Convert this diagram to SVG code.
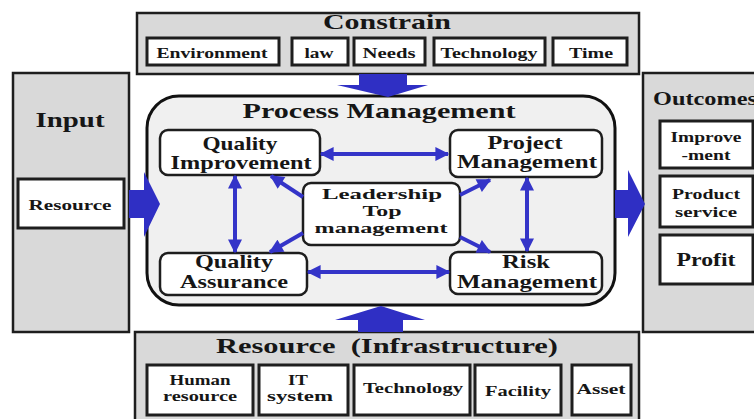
<svg xmlns="http://www.w3.org/2000/svg" width="754" height="419" viewBox="0 0 754 419">
<style>
.panel{fill:#d9d9d9;stroke:#1e1e1e;stroke-width:2.5}
.item{fill:#fff;stroke:#1e1e1e;stroke-width:3}
.node{fill:#fff;stroke:#1e1e1e;stroke-width:2.5}
.proc{fill:#f0f0f0;stroke:#111;stroke-width:3}
text{font-family:"Liberation Serif","Times New Roman",serif;font-weight:bold;fill:#161616;text-anchor:middle}
.t1{font-size:22px}
.t2{font-size:15px}
.t4{font-size:14px}
.t3{font-size:19px}
.t5{font-size:15.5px}
.link{stroke:#3434c8;stroke-width:4;fill:none;marker-end:url(#ah)}
.dbl{marker-start:url(#ah)}
.blk{fill:#2f2fc4}
</style>
<defs>
<marker id="ah" viewBox="0 0 10 10" refX="9" refY="5" markerWidth="15" markerHeight="14" markerUnits="userSpaceOnUse" orient="auto-start-reverse">
<path d="M0,0 L10,5 L0,10 z" fill="#3434c8"/>
</marker>
</defs>

<g id="constrain">
<rect class="panel" x="137" y="13" width="502" height="61"/>
<text class="t1" x="387" y="29" textLength="128" lengthAdjust="spacingAndGlyphs">Constrain</text>
<rect class="item" x="147" y="38" width="132" height="27"/>
<text class="t2" x="212" y="58" textLength="111" lengthAdjust="spacingAndGlyphs">Environment</text>
<rect class="item" x="292" y="38" width="56" height="27"/>
<text class="t2" x="319" y="58" textLength="29" lengthAdjust="spacingAndGlyphs">law</text>
<rect class="item" x="354" y="38" width="71" height="27"/>
<text class="t2" x="389" y="58" textLength="53" lengthAdjust="spacingAndGlyphs">Needs</text>
<rect class="item" x="434" y="38" width="111" height="27"/>
<text class="t2" x="489" y="58" textLength="97" lengthAdjust="spacingAndGlyphs">Technology</text>
<rect class="item" x="553" y="38" width="74" height="27"/>
<text class="t2" x="591" y="58" textLength="44" lengthAdjust="spacingAndGlyphs">Time</text>
</g>

<g id="input">
<rect class="panel" x="13" y="73" width="116" height="259"/>
<text class="t1" x="70" y="127" textLength="69" lengthAdjust="spacingAndGlyphs">Input</text>
<rect class="item" x="18" y="179" width="106" height="49"/>
<text class="t2" x="70" y="210" textLength="83" lengthAdjust="spacingAndGlyphs">Resource</text>
</g>

<g id="outcomes">
<rect class="panel" x="643" y="73" width="120" height="259"/>
<text class="t3" x="705" y="105" textLength="104" lengthAdjust="spacingAndGlyphs">Outcomes</text>
<rect class="item" x="660" y="121" width="93" height="47"/>
<text class="t2" x="706" y="142" textLength="71" lengthAdjust="spacingAndGlyphs">Improve</text>
<text class="t2" x="706" y="160" textLength="49" lengthAdjust="spacingAndGlyphs">-ment</text>
<rect class="item" x="660" y="176" width="93" height="51"/>
<text class="t2" x="706" y="199" textLength="68" lengthAdjust="spacingAndGlyphs">Product</text>
<text class="t2" x="706" y="217" textLength="62" lengthAdjust="spacingAndGlyphs">service</text>
<rect class="item" x="660" y="235" width="93" height="49"/>
<text class="t3" x="706" y="266" textLength="59" lengthAdjust="spacingAndGlyphs">Profit</text>
</g>

<g id="resource">
<rect class="panel" x="135" y="332" width="504" height="95"/>
<text class="t1" x="387" y="353" textLength="342" lengthAdjust="spacingAndGlyphs" style="white-space:pre">Resource  (Infrastructure)</text>
<rect class="item" x="147" y="365" width="106" height="50"/>
<text class="t4" x="200" y="385" textLength="61" lengthAdjust="spacingAndGlyphs">Human</text>
<text class="t4" x="200" y="401" textLength="74" lengthAdjust="spacingAndGlyphs">resource</text>
<rect class="item" x="259" y="365" width="89" height="50"/>
<text class="t4" x="298" y="385" textLength="20" lengthAdjust="spacingAndGlyphs">IT</text>
<text class="t4" x="300" y="401" textLength="66" lengthAdjust="spacingAndGlyphs">system</text>
<rect class="item" x="354" y="365" width="116" height="50"/>
<text class="t2" x="413" y="393" textLength="100" lengthAdjust="spacingAndGlyphs">Technology</text>
<rect class="item" x="475" y="365" width="86" height="50"/>
<text class="t2" x="518" y="396" textLength="66" lengthAdjust="spacingAndGlyphs">Facility</text>
<rect class="item" x="572" y="365" width="59" height="50"/>
<text class="t2" x="601" y="394" textLength="49" lengthAdjust="spacingAndGlyphs">Asset</text>
</g>

<g id="process">
<rect class="proc" x="147" y="96" width="468" height="209" rx="32"/>
<text class="t1" x="379" y="118" textLength="273" lengthAdjust="spacingAndGlyphs">Process Management</text>
</g>

<g id="quality-improvement">
<rect class="node" x="160" y="130" width="160" height="45" rx="8"/>
<text class="t3" x="240" y="150" textLength="75" lengthAdjust="spacingAndGlyphs">Quality</text>
<text class="t3" x="241" y="169" textLength="141" lengthAdjust="spacingAndGlyphs">Improvement</text>
</g>
<g id="project-management">
<rect class="node" x="450" y="130" width="152" height="47" rx="8"/>
<text class="t3" x="525" y="149" textLength="75" lengthAdjust="spacingAndGlyphs">Project</text>
<text class="t3" x="527" y="168" textLength="140" lengthAdjust="spacingAndGlyphs">Management</text>
</g>
<g id="leadership">
<rect class="node" x="303" y="183" width="157" height="62" rx="8"/>
<text class="t5" x="382" y="199" textLength="120" lengthAdjust="spacingAndGlyphs">Leadership</text>
<text class="t5" x="382" y="216" textLength="39" lengthAdjust="spacingAndGlyphs">Top</text>
<text class="t5" x="381" y="233" textLength="133" lengthAdjust="spacingAndGlyphs">management</text>
</g>
<g id="quality-assurance">
<rect class="node" x="160" y="253" width="147" height="42" rx="8"/>
<text class="t3" x="234" y="268" textLength="78" lengthAdjust="spacingAndGlyphs">Quality</text>
<text class="t3" x="234" y="288" textLength="108" lengthAdjust="spacingAndGlyphs">Assurance</text>
</g>
<g id="risk-management">
<rect class="node" x="450" y="252" width="152" height="42" rx="8"/>
<text class="t3" x="526" y="268" textLength="48" lengthAdjust="spacingAndGlyphs">Risk</text>
<text class="t3" x="527" y="288" textLength="140" lengthAdjust="spacingAndGlyphs">Management</text>
</g>

<g id="connectors">
<polygon class="blk" points="359,74 407,74 407,85 428,85 388,97 337,85 359,85"/>
<polygon class="blk" points="358,332 403,332 403,320 425,320 381,306 335,320 358,320"/>
<polygon class="blk" points="129,190 144,190 144,172 160,204 144,237 144,218 129,218"/>
<polygon class="blk" points="615,190 628,190 628,170 645,204 628,237 628,218 615,218"/>
<line class="link dbl" x1="321" y1="154" x2="448" y2="154"/>
<line class="link dbl" x1="308" y1="272" x2="449" y2="272"/>
<line class="link dbl" x1="235" y1="176" x2="235" y2="252"/>
<line class="link dbl" x1="527" y1="178" x2="527" y2="251"/>
<line class="link" x1="303" y1="197" x2="271" y2="176"/>
<line class="link" x1="460" y1="195" x2="490" y2="180"/>
<line class="link" x1="303" y1="233" x2="270" y2="252"/>
<line class="link" x1="460" y1="237" x2="490" y2="252"/>
</g>
</svg>
